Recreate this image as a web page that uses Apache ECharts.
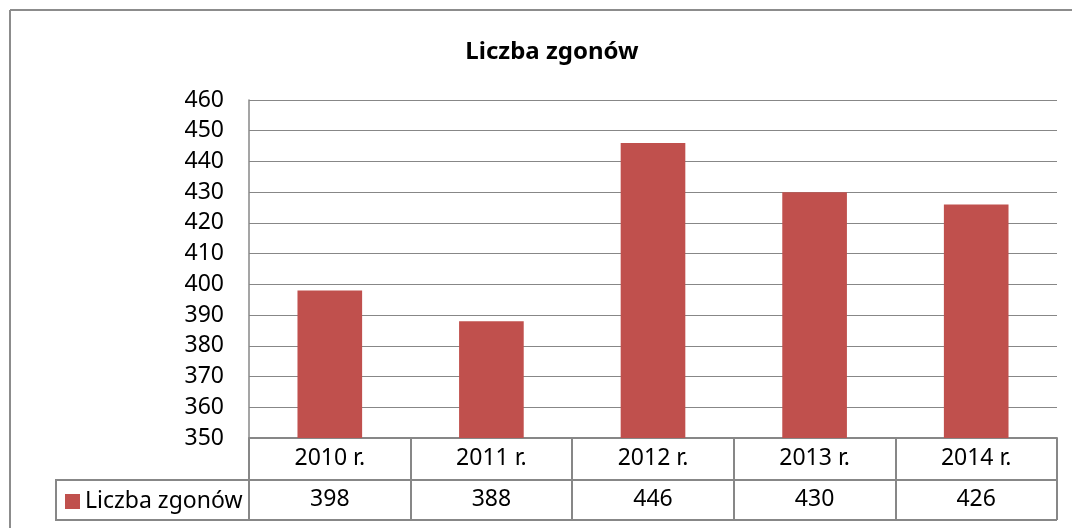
<!DOCTYPE html>
<html>
<head>
<meta charset="utf-8">
<script src="https://cdn.jsdelivr.net/npm/echarts@6/dist/echarts.min.js"></script>
<style>
  html, body { margin: 0; padding: 0; background: #fff; overflow: hidden; }
  #chart { width: 1072px; height: 528px; }
</style>
</head>
<body>
<div id="chart"></div>
<script>
// data
const years = ["2010 r.", "2011 r.", "2012 r.", "2013 r.", "2014 r."];
const deaths = [398, 388, 446, 430, 426];
const seriesName = "Liczba zgonów";

const gray = "#878787";
const font = "'Noto Sans', 'Open Sans', sans-serif";

const chart = echarts.init(document.getElementById("chart"));

const option = {
  animation: false,
  title: {
    text: seriesName,
    left: 547,
    top: 35,
    textAlign: "center",
    textStyle: { fontFamily: font, fontSize: 24, fontWeight: "bold", color: "#000" },
  },
  legend: {
    data: [seriesName],
    left: 65,
    top: 490,
    padding: 0,
    icon: "rect",
    itemWidth: 15,
    itemHeight: 15,
    itemGap: 7,
    textStyle: { fontFamily: font, fontSize: 23, color: "#000" },
  },
  grid: { left: 249, right: 15, top: 100, bottom: 90 },
  xAxis: [
    {
      type: "category",
      data: years,
      axisLine: { lineStyle: { color: gray, width: 2 } },
      axisTick: { show: true, length: 42, lineStyle: { color: gray, width: 2 } },
      axisLabel: { margin: 9, fontFamily: font, fontSize: 23, color: "#000" },
    },
    {
      // second row of the data table: the values
      type: "category",
      position: "bottom",
      offset: 42,
      data: deaths.map(String),
      axisLine: { lineStyle: { color: gray, width: 2 } },
      axisTick: { show: true, length: 40, lineStyle: { color: gray, width: 2 } },
      axisLabel: { margin: 8, fontFamily: font, fontSize: 23, color: "#000" },
    },
  ],
  yAxis: {
    type: "value",
    min: 350,
    max: 460,
    interval: 10,
    axisLine: { show: true, lineStyle: { color: gray, width: 1.5 } },
    axisTick: { show: false },
    splitLine: { lineStyle: { color: gray, width: 1 } },
    axisLabel: { margin: 25, fontFamily: font, fontSize: 23, color: "#000" },
  },
  series: [
    {
      name: seriesName,
      type: "bar",
      data: deaths,
      barWidth: "40%",
      itemStyle: { color: "#C0504D" },
    },
  ],
  graphic: [
    // outer chart frame: only left and top edges are inside the picture
    {
      type: "line",
      shape: { x1: 10, y1: 10, x2: 10, y2: 528 },
      style: { stroke: "#8c8c8c", lineWidth: 2 },
    },
    {
      type: "line",
      shape: { x1: 10, y1: 10, x2: 1072, y2: 10 },
      style: { stroke: "#8c8c8c", lineWidth: 2 },
    },
    // legend cell of the data table
    {
      type: "polyline",
      shape: { points: [[249, 480], [56, 480], [56, 520], [1057, 520]] },
      style: { fill: null, stroke: gray, lineWidth: 2 },
    },
  ],
};

chart.setOption(option);
</script>
</body>
</html>
